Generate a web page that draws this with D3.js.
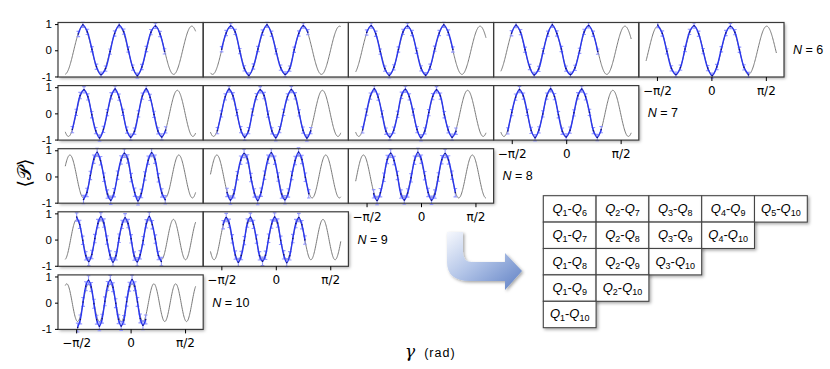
<!DOCTYPE html>
<html>
<head>
<meta charset="utf-8">
<script src="https://cdn.jsdelivr.net/npm/d3@7"></script>
<style>
  body { margin: 0; background: #fff; }
  svg { display: block; }
</style>
</head>
<body>
<script>
/*** global variables ***/
const width = 830, height = 369;

// number of qubits in each row of panels
const Ns = [6, 7, 8, 9, 10];
// contrast of the theory curve, per row
const fitAmp = [0.92, 0.88, 0.82, 0.77, 0.72];
// spacing of the measured gamma values, per row (rad)
const gStep = [0.1309, 0.1122, 0.0982, 0.0873, 0.0785];
// half length of the error bars, per row
const errBar = [0.1, 0.12, 0.16, 0.16, 0.17];
// position of a maximum of the theory curve, per panel (rad)
const fitPeak = [
  [-0.33, -0.254, -0.39, -0.40, -0.50],
  [-0.447, -0.45, -0.45, -0.45],
  [-0.18, -0.13, -0.09],
  [-0.16, -0.035],
  [0.043]
];
// first measured gamma, per panel (rad)
const gStart = [
  [-1.508, -1.563, -1.568, -1.578, -1.547],
  [-1.681, -1.684, -1.684, -1.684],
  [-1.358, -1.406, -1.366],
  [-1.556, -1.518],
  [-1.528]
];
// measured parity <P>, per panel
const parity = [
  [
    [0.62, 0.97, 0.70, 0.04, -0.63, -0.93, -0.70, -0.05, 0.64, 0.96, 0.71, 0.03, -0.66, -0.97, -0.64, 0.05, 0.69, 0.93, 0.62, -0.04],
    [0.04, 0.66, 0.93, 0.70, -0.03, -0.69, -0.96, -0.62, 0.05, 0.68, 0.97, 0.63, -0.04, -0.66, -0.92, -0.70, 0.02, 0.64, 0.94, 0.69],
    [0.68, 0.94, 0.63, -0.05, -0.70, -0.96, -0.65, 0.03, 0.70, 0.93, 0.66, -0.02, -0.69, -0.95, -0.63, 0.06, 0.66, 0.97, 0.68, 0.03],
    [0.65, 0.96, 0.69, 0.02, -0.64, -0.94, -0.71, -0.03, 0.63, 0.97, 0.64, 0.05, -0.70, -0.93, -0.67, -0.02, 0.70, 0.95, 0.63, -0.05],
    [0.96, 0.64, -0.04, -0.69, -0.93, -0.66, 0.05, 0.70, 0.94, 0.63, -0.03, -0.68, -0.97, -0.64, 0.04, 0.66, 0.92, 0.69, 0.02, -0.65, -0.94]
  ],
  [
    [-0.62, 0.04, 0.68, 0.90, 0.63, -0.05, -0.66, -0.94, -0.61, 0.03, 0.67, 0.93, 0.62, 0.04, -0.64, -0.91, -0.68, -0.02, 0.66, 0.94, 0.61, -0.04, -0.67, -0.90, -0.63],
    [-0.66, -0.02, 0.63, 0.93, 0.67, 0.03, -0.62, -0.91, -0.66, 0.05, 0.64, 0.90, 0.68, -0.03, -0.67, -0.93, -0.62, 0.04, 0.63, 0.91, 0.67, 0.02, -0.64, -0.94, -0.66],
    [-0.63, 0.05, 0.66, 0.94, 0.62, -0.02, -0.68, -0.90, -0.64, -0.04, 0.69, 0.92, 0.63, 0.05, -0.62, -0.93, -0.67, 0.03, 0.64, 0.90, 0.66, -0.05, -0.63, -0.91, -0.68],
    [-0.67, 0.03, 0.62, 0.91, 0.66, 0.04, -0.65, -0.93, -0.63, -0.02, 0.66, 0.94, 0.64, -0.05, -0.68, -0.90, -0.64, 0.02, 0.67, 0.93, 0.63, 0.04, -0.66, -0.92, -0.62]
  ],
  [
    [-0.88, -0.61, 0.04, 0.66, 0.92, 0.60, -0.03, -0.67, -0.91, -0.62, 0.05, 0.63, 0.89, 0.67, -0.04, -0.60, -0.93, -0.65, 0.02, 0.62, 0.91, 0.66, -0.05, -0.63, -0.89],
    [-0.61, -0.90, -0.66, 0.03, 0.62, 0.88, 0.67, -0.04, -0.63, -0.92, -0.60, 0.05, 0.66, 0.91, 0.62, -0.02, -0.67, -0.89, -0.63, 0.04, 0.61, 0.93, 0.65, -0.03, -0.66],
    [-0.66, -0.92, -0.62, -0.03, 0.65, 0.89, 0.61, 0.04, -0.67, -0.90, -0.63, -0.05, 0.62, 0.92, 0.66, 0.03, -0.61, -0.91, -0.67, -0.02, 0.64, 0.88, 0.63, 0.05, -0.62]
  ],
  [
    [0.86, 0.58, -0.03, -0.62, -0.84, -0.57, 0.04, 0.61, 0.87, 0.63, -0.02, -0.59, -0.86, -0.62, 0.05, 0.58, 0.83, 0.61, 0.03, -0.63, -0.85, -0.58, -0.04, 0.60, 0.88, 0.57, 0.02, -0.61, -0.84],
    [0.57, 0.84, 0.62, 0.03, -0.59, -0.87, -0.61, -0.04, 0.63, 0.85, 0.58, 0.02, -0.62, -0.83, -0.60, 0.05, 0.59, 0.86, 0.63, -0.03, -0.58, -0.88, -0.62, 0.04, 0.61, 0.84, 0.57, -0.02]
  ],
  [
    [-0.95, -0.64, 0.03, 0.63, 0.86, 0.60, -0.04, -0.65, -0.90, -0.61, 0.05, 0.64, 0.87, 0.59, -0.02, -0.63, -0.89, -0.66, 0.04, 0.61, 0.88, 0.63, 0.03, -0.60, -0.86, -0.64]
  ]
];
// qubit pairs shown in the table (same order as the panels)
const pairs = [
  [[1, 6], [2, 7], [3, 8], [4, 9], [5, 10]],
  [[1, 7], [2, 8], [3, 9], [4, 10]],
  [[1, 8], [2, 9], [3, 10]],
  [[1, 9], [2, 10]],
  [[1, 10]]
];
const yTicks = [-1, 0, 1];
const xTicks = [-Math.PI / 2, 0, Math.PI / 2];
const xTickLabels = ["\u2212\u03c0/2", "0", "\u03c0/2"];

/*** layout ***/
const panelX0 = 58, panelW = 145.2, panelY0 = 22.5, panelH = 54.5, rowPitch = 63.1;
const cellX0 = 543.3, cellY0 = 195.7, cellW = 52.8, cellH = 26.4;
const capW = 1.8;

const x = d3.scaleLinear().domain([-2 * Math.PI / 3, 2 * Math.PI / 3]).range([0, panelW]);
const y = d3.scaleLinear().domain([-1.02, 1.06]).range([panelH, 0]);
const line = d3.line().x(d => x(d[0])).y(d => y(d[1]));
const dataLine = d3.line().x(d => x(d[0])).y(d => y(d[1])).curve(d3.curveCatmullRom.alpha(0.5));

const svg = d3.select('body')
  .append('svg')
  .attr('width', width)
  .attr('height', height)
  .attr('viewBox', [0, 0, width, height]);

const defs = svg.append('defs');
defs.append('filter')
    .attr('id', 'shadow')
    .attr('x', '-10%').attr('y', '-10%')
    .attr('width', '130%').attr('height', '140%')
  .append('feDropShadow')
    .attr('dx', 1.5).attr('dy', 1.5)
    .attr('stdDeviation', 1.4)
    .attr('flood-color', '#000')
    .attr('flood-opacity', 0.35);

const grad = defs.append('linearGradient')
  .attr('id', 'arrowGrad')
  .attr('x1', 0).attr('y1', 0).attr('x2', 1).attr('y2', 1);
grad.append('stop').attr('offset', 0).attr('stop-color', '#f6f8fd');
grad.append('stop').attr('offset', 0.45).attr('stop-color', '#b3c5e8');
grad.append('stop').attr('offset', 1).attr('stop-color', '#5f80c4');

/*** panels ***/
const panels = [];
Ns.forEach((N, r) => {
  fitPeak[r].forEach((p, c) => panels.push({ r, c, N, p }));
});

const pos = d => [panelX0 + d.c * panelW, panelY0 + d.r * rowPitch];

// white backgrounds with shadow first, so the shadows stay underneath
svg.append('g')
  .selectAll('rect')
  .data(panels)
  .join('rect')
    .attr('x', d => pos(d)[0])
    .attr('y', d => pos(d)[1])
    .attr('width', panelW)
    .attr('height', panelH)
    .attr('fill', '#fff')
    .attr('filter', 'url(#shadow)');

const pg = svg.append('g')
  .selectAll('g')
  .data(panels)
  .join('g')
    .attr('transform', d => `translate(${pos(d)})`);

// theory curve
pg.append('path')
  .attr('fill', 'none')
  .attr('stroke', '#7a7a7a')
  .attr('stroke-width', 1)
  .attr('d', d => {
    const A = fitAmp[d.r];
    const g = d3.range(-0.6 * Math.PI, 0.6 * Math.PI + 1e-6, 0.01);
    return line(g.map(t => [t, A * Math.cos(d.N * (t - d.p))]));
  });

// measured points with capped error bars
pg.each(function (d) {
  const pts = parity[d.r][d.c].map((v, i) => [gStart[d.r][d.c] + i * gStep[d.r], v]);
  const eb = errBar[d.r];
  const g = d3.select(this);
  g.append('path')
    .attr('fill', 'none')
    .attr('stroke', '#8a8eff')
    .attr('stroke-opacity', 0.9)
    .attr('stroke-width', 1.1)
    .attr('d', pts.map(e => {
      const px = x(e[0]), lo = y(e[1] - eb), hi = y(e[1] + eb);
      return `M${px},${lo}V${hi}M${px - capW},${lo}H${px + capW}M${px - capW},${hi}H${px + capW}`;
    }).join(''));
  g.append('path')
    .attr('fill', 'none')
    .attr('stroke', '#2a36f0')
    .attr('stroke-width', 1.4)
    .attr('d', dataLine(pts));
  g.append('g')
    .attr('fill', '#141460')
    .selectAll('circle')
    .data(pts)
    .join('circle')
      .attr('cx', e => x(e[0]))
      .attr('cy', e => y(e[1]))
      .attr('r', 0.75);
});

// frames
pg.append('rect')
  .attr('width', panelW)
  .attr('height', panelH)
  .attr('fill', 'none')
  .attr('stroke', '#3a3a3a')
  .attr('stroke-width', 1.2);

/*** axes ***/
Ns.forEach((N, r) => {
  const top = panelY0 + r * rowPitch;
  const last = fitPeak[r].length - 1;
  const right = panelX0 + (last + 1) * panelW;

  const ya = svg.append('g')
    .attr('transform', `translate(${panelX0},${top})`)
    .call(d3.axisLeft(y).tickValues(yTicks).tickSize(3).tickPadding(3)
      .tickFormat(d => d === -1 ? '-1' : d3.format('d')(d)));
  ya.select('.domain').remove();
  ya.selectAll('text').attr('font-family', 'Liberation Sans, Arial, sans-serif').attr('font-size', 11.5).attr('fill', '#000');

  const xa = svg.append('g')
    .attr('transform', `translate(${panelX0 + last * panelW},${top + panelH})`)
    .call(d3.axisBottom(x).tickValues(xTicks).tickSize(4).tickPadding(5)
      .tickFormat((d, i) => xTickLabels[i]));
  xa.select('.domain').remove();
  xa.selectAll('text').attr('font-family', 'DejaVu Sans, sans-serif').attr('font-size', 12).attr('fill', '#000');

  const lab = svg.append('text')
    .attr('x', right + 9)
    .attr('y', top + panelH / 2 + 4.5)
    .attr('font-family', 'Liberation Sans, Arial, sans-serif')
    .attr('font-size', 12.5)
    .attr('fill', '#000');
  lab.append('tspan').attr('font-style', 'italic').text('N');
  lab.append('tspan').text(` = ${N}`);
});

// axis titles
svg.append('text')
  .attr('transform', 'translate(31,173) rotate(-90)')
  .attr('text-anchor', 'middle')
  .attr('font-family', 'DejaVu Serif, DejaVu Sans, serif')
  .attr('font-size', 19)
  .text('\u27e8\ud835\udcab\u27e9');

const xt = svg.append('text')
  .attr('x', 405)
  .attr('y', 357)
  .attr('fill', '#000');
xt.append('tspan')
  .attr('font-family', 'DejaVu Serif, serif')
  .attr('font-style', 'italic')
  .attr('font-size', 17)
  .text('\u03b3');
xt.append('tspan')
  .attr('dx', 9)
  .attr('font-family', 'Liberation Sans, Arial, sans-serif')
  .attr('font-size', 12.5)
  .attr('letter-spacing', 1)
  .text('(rad)');

/*** arrow ***/
svg.append('path')
  .attr('d', 'M447,232 L447,262 Q447,281 470,281 L505,281 L505,290 L522,271 L505,253 L505,262 L472,262 Q463,262 463,252 L463,232 Z')
  .attr('fill', 'url(#arrowGrad)')
  .attr('filter', 'url(#shadow)');

/*** pair table ***/
const cells = [];
pairs.forEach((row, r) => row.forEach((q, c) => cells.push({ r, c, q })));

const cg = svg.append('g')
  .selectAll('g')
  .data(cells)
  .join('g')
    .attr('transform', d => `translate(${cellX0 + d.c * cellW},${cellY0 + d.r * cellH})`);

cg.append('rect')
  .attr('width', cellW)
  .attr('height', cellH)
  .attr('fill', '#fff')
  .attr('stroke', '#444')
  .attr('stroke-width', 1.1)
  .attr('filter', 'url(#shadow)');

const ct = cg.append('text')
  .attr('x', cellW / 2)
  .attr('y', cellH / 2 + 4)
  .attr('text-anchor', 'middle')
  .attr('font-family', 'Liberation Sans, Arial, sans-serif')
  .attr('font-size', 13)
  .attr('fill', '#000');
ct.each(function (d) {
  const t = d3.select(this);
  t.append('tspan').attr('font-style', 'italic').text('Q');
  t.append('tspan').attr('font-size', 9).attr('dy', 3).text(d.q[0]);
  t.append('tspan').attr('dy', -3).text('-');
  t.append('tspan').attr('font-style', 'italic').text('Q');
  t.append('tspan').attr('font-size', 9).attr('dy', 3).text(d.q[1]);
});
</script>
</body>
</html>
